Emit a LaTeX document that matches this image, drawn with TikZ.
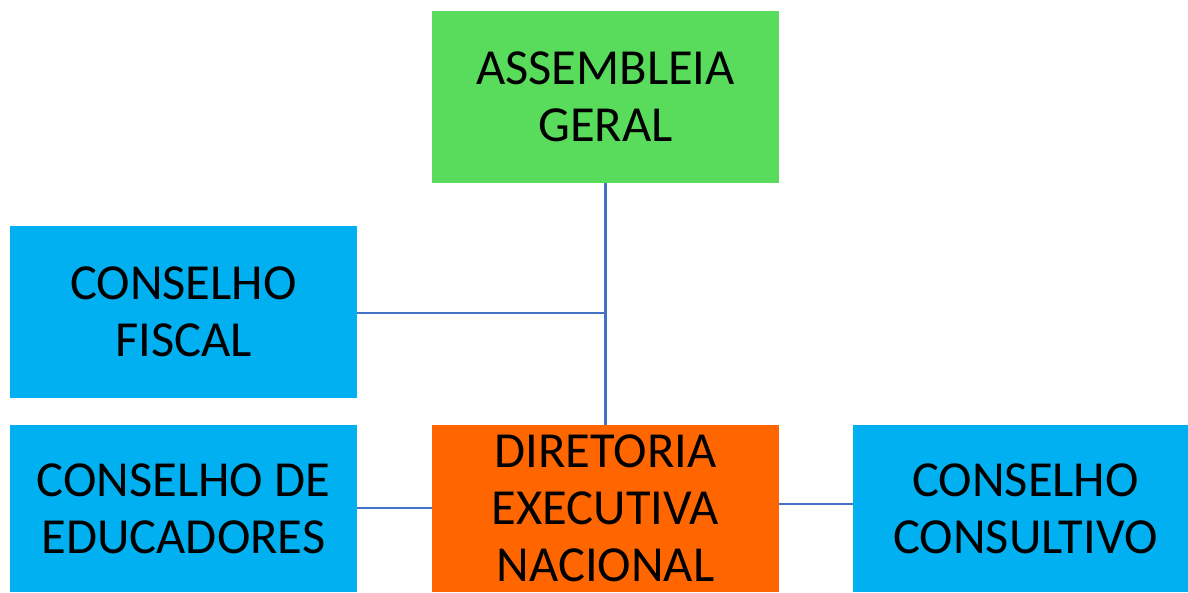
\documentclass[tikz,border=0pt]{standalone}
\usepackage{fontspec}
\setmainfont{Carlito}
\definecolor{agreen}{HTML}{59DB5C}
\definecolor{cblue}{HTML}{00B0F0}
\definecolor{dorange}{HTML}{FF6600}
\definecolor{lineblue}{HTML}{4472C4}
\begin{document}
\begin{tikzpicture}[x=1pt,y=-1pt,
  box/.style={rectangle, inner sep=0pt, align=center, text=black,
    font=\fontsize{50.5}{57}\selectfont},
  link/.style={draw=lineblue, line width=2.6pt}]
\useasboundingbox (0,0) rectangle (1188,592);
\node[box, fill=agreen, minimum width=347pt, minimum height=172pt] (ag) at (605.5,97) {ASSEMBLEIA\\GERAL};
\node[box, fill=cblue, minimum width=347pt, minimum height=172pt] (cf) at (183.5,312) {CONSELHO\\FISCAL};
\node[box, fill=cblue, minimum width=347pt, minimum height=167pt] (ce) at (183.5,508.5) {CONSELHO DE\\EDUCADORES};
\node[box, fill=dorange, minimum width=347pt, minimum height=167pt] (de) at (605.5,508.5) {DIRETORIA\\EXECUTIVA\\NACIONAL};
\node[box, fill=cblue, minimum width=335pt, minimum height=167pt] (cc) at (1020.5,508.5) {\hspace*{10pt}CONSELHO\\\hspace*{10pt}CONSULTIVO};
\coordinate (j) at (606,313);
\draw[link] (ag.south) -- (de.north);
\draw[link] (cf.east |- j) -- (j);
\draw[link] (ce.east |- 0,508) -- (de.west |- 0,508);
\draw[link] (de.east |- 0,504) -- (cc.west |- 0,504);
\end{tikzpicture}
\end{document}
